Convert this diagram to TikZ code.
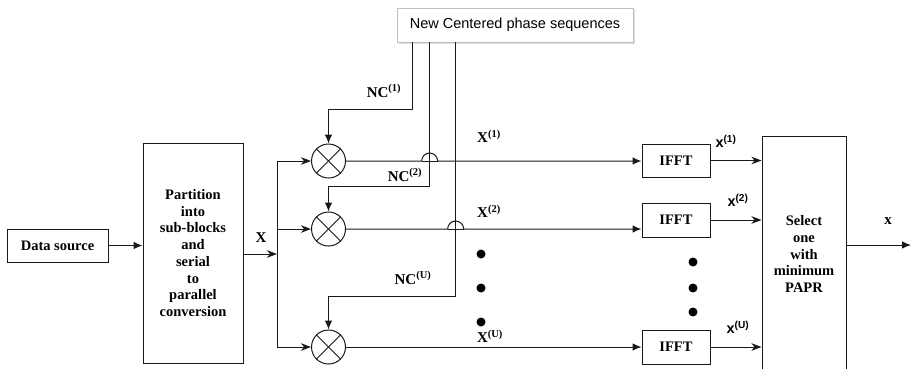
\documentclass[tikz,border=0pt]{standalone}
\usepackage{fontspec}
\setmainfont{Liberation Serif}
\setsansfont{Liberation Sans}
\usetikzlibrary{arrows.meta,shadows}
\begin{document}
\begin{tikzpicture}[x=1pt,y=-1pt,
  ln/.style={line width=1pt,draw=black!90},
  blk/.style={ln,rectangle,inner sep=0pt,align=center,font=\fontsize{14.5}{16.7}\selectfont\bfseries},
  mul/.style={ln,circle,minimum size=34pt,inner sep=0pt},
  lbl/.style={inner sep=0pt,font=\fontsize{15}{16}\selectfont\bfseries},
  slbl/.style={inner sep=0pt,font=\fontsize{14.5}{16}\selectfont\sffamily\bfseries},
  dotn/.style={circle,fill=black,inner sep=0pt,minimum size=9pt},
  tri/.style={-{Latex[length=9pt,width=7.5pt]}},
  stl/.style={-{Stealth[length=10pt,width=7.5pt,inset=3pt]}},
]
\useasboundingbox (0,0) rectangle (912,368);

% blocks
\node[blk,minimum width=101pt,minimum height=33pt] (src) at (57.5,245.5) {Data source};
\node[blk,minimum width=100pt,minimum height=220pt] (part) at (193,253)
  {Partition\\into\\sub-blocks\\and\\serial\\to\\parallel\\conversion};
\node[draw=black!25,line width=0.7pt,fill=white,drop shadow={shadow xshift=2pt,shadow yshift=-2pt,opacity=0.25},
  minimum width=236pt,minimum height=34pt,inner sep=0pt,font=\fontsize{14.5}{16}\selectfont\sffamily]
  (ncs) at (515,25) {New Centered phase sequences};

\node[mul] (m1) at (328.5,161) {};
\node[mul] (m2) at (328.5,229) {};
\node[mul] (m3) at (328.5,347) {};
\foreach \m in {m1,m2,m3}{
  \draw[ln] (\m.north east) -- (\m.south west);
  \draw[ln] (\m.north west) -- (\m.south east);
}

\node[blk,minimum width=68pt,minimum height=33pt] (f1) at (676,160.5) {IFFT};
\node[blk,minimum width=68pt,minimum height=34pt] (f2) at (676,220) {IFFT};
\node[blk,minimum width=68pt,minimum height=34pt] (f3) at (676,347) {IFFT};

\node[blk,minimum width=84pt,minimum height=236pt] (sel) at (804,254)
  {Select\\one\\with\\minimum\\PAPR};

% coordinates
\coordinate (bus) at (277,254);
\coordinate (t1) at ([xshift=16pt]ncs.south west);
\coordinate (t2) at ([xshift=33pt]ncs.south west);
\coordinate (t3) at ([xshift=59pt]ncs.south west);
\coordinate (j1) at (t2 |- m1);
\coordinate (j2) at (t3 |- m2);
\coordinate (out) at (911,245);

% connectors
\draw[ln,tri] (src.east) -- (src.east -| part.west);
\draw[ln,stl] (part.east |- bus) -- (bus);
\draw[ln] (bus |- m1) -- (bus |- m3);
\draw[ln,stl] (bus |- m1) -- (m1.west);
\draw[ln,stl] (bus |- m2) -- (m2.west);
\draw[ln,stl] (bus |- m3) -- (m3.west);

\draw[ln,tri] (t1) -- ++(0,67) -| (m1.north);
\draw[ln,tri] (t2) -- ++(0,143.7) -| (m2.north);
\draw[ln,tri] (t3) -- ++(0,254) -| (m3.north);

\draw[ln,tri] (m1.east) -- ([xshift=-8pt]j1) arc[start angle=180,end angle=0,radius=8pt] -- (m1 -| f1.west);
\draw[ln] ([xshift=-8pt]j1) -- ([xshift=8pt]j1);
\draw[ln,tri] (m2.east) -- ([xshift=-8pt]j2) arc[start angle=180,end angle=0,radius=8pt] -- (m2 -| f2.west);
\draw[ln] ([xshift=-8pt]j2) -- ([xshift=8pt]j2);
\draw[ln,tri] (m3.east) -- (m3 -| f3.west);

\draw[ln,stl] (f1.east) -- (f1.east -| sel.west);
\draw[ln,stl] (f2.east) -- (f2.east -| sel.west);
\draw[ln,stl] (f3.east) -- (f3.east -| sel.west);
\draw[ln,tri] (sel.east |- out) -- (out);

% labels
\node[lbl] (lX) at (261,238) {X};
\node[lbl] (lX1) at (489,136) {X\textsuperscript{(1)}};
\node[lbl] (lX2) at (489,211) {X\textsuperscript{(2)}};
\node[lbl] (lXU) at (490,336) {X\textsuperscript{(U)}};
\node[lbl] (lN1) at (384,91) {NC\textsuperscript{(1)}};
\node[lbl] (lN2) at (405,175) {NC\textsuperscript{(2)}};
\node[lbl] (lNU) at (413,278) {NC\textsuperscript{(U)}};
\node[slbl] (lx1) at (726,141) {x\textsuperscript{(1)}};
\node[slbl] (lx2) at (738,200) {x\textsuperscript{(2)}};
\node[slbl] (lxU) at (738,327) {x\textsuperscript{(U)}};
\node[lbl] (lx) at (888,221) {x};

% dots
\node[dotn] (d1) at (481,254) {};
\node[dotn] (d2) at (481,288) {};
\node[dotn] (d3) at (481,322) {};
\node[dotn] (e1) at (693,262) {};
\node[dotn] (e2) at (693,288) {};
\node[dotn] (e3) at (693,312) {};
\end{tikzpicture}
\end{document}
